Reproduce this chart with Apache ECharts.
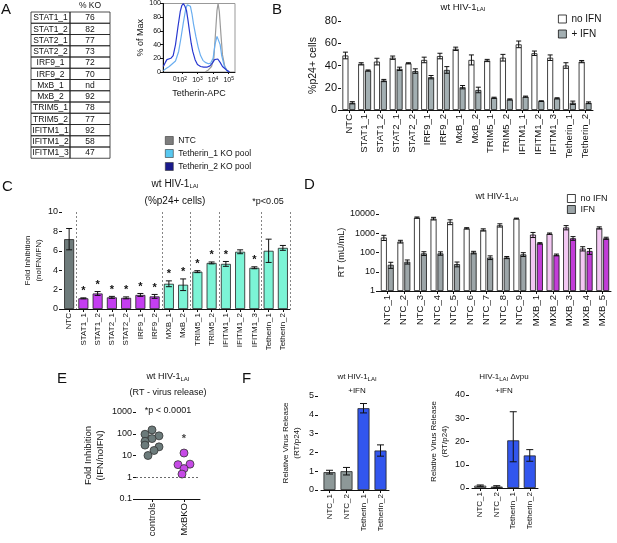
<!DOCTYPE html>
<html>
<head>
<meta charset="utf-8">
<script src="https://cdn.jsdelivr.net/npm/echarts@6/dist/echarts.min.js"></script>
<style>
html, body { margin: 0; padding: 0; background: #fff; }
#main { width: 617px; height: 543px; }
</style>
</head>
<body>
<div id="main"></div>
<script>
// ---- A: knockout table ----
var koNames = ['STAT1_1', 'STAT1_2', 'STAT2_1', 'STAT2_2', 'IRF9_1', 'IRF9_2', 'MxB_1', 'MxB_2',
    'TRIM5_1', 'TRIM5_2', 'IFITM1_1', 'IFITM1_2', 'IFITM1_3'];
var koValues = ['76', '82', '77', '73', '72', '70', 'nd', '92', '78', '77', '92', '58', '47'];

// ---- A: tetherin histogram (x = log10 APC, y = % of max) ----
var histNTC = [[3.5, 0], [3.7, 3], [3.9, 8], [4.05, 20], [4.15, 55], [4.25, 90], [4.32, 100],
    [4.4, 88], [4.5, 55], [4.6, 25], [4.75, 8], [4.9, 2], [5.05, 0]];
var histTeth1 = [[0.82, 2], [1.0, 5], [1.2, 8], [1.4, 12], [1.6, 16], [1.8, 30], [1.95, 50], [2.1, 72],
    [2.25, 92], [2.35, 98], [2.45, 100], [2.55, 96], [2.65, 85], [2.75, 70], [2.9, 52], [3.05, 36],
    [3.2, 24], [3.35, 17], [3.5, 14], [3.7, 12], [3.85, 13], [4.0, 20], [4.12, 40], [4.25, 52],
    [4.35, 50], [4.45, 40], [4.55, 24], [4.7, 10], [4.85, 3], [5.0, 0]];
var histTeth2 = [[0.82, 8], [0.95, 14], [1.05, 18], [1.15, 16], [1.3, 20], [1.45, 24], [1.6, 40],
    [1.75, 65], [1.9, 88], [2.0, 97], [2.1, 100], [2.2, 96], [2.3, 90], [2.4, 75], [2.5, 58],
    [2.6, 42], [2.7, 30], [2.85, 18], [3.0, 11], [3.2, 8], [3.4, 7], [3.6, 7], [3.8, 9], [3.95, 13],
    [4.1, 18], [4.2, 20], [4.3, 19], [4.45, 14], [4.6, 8], [4.75, 5], [4.9, 2], [5.05, 0]];
var histTickPos = [1.55, 2, 3, 4, 5];
var histTickText = ['0', '10{u|2}', '10{u|3}', '10{u|4}', '10{u|5}'];

// ---- B: %p24+ cells ----
var bCats = ['NTC', 'STAT1_1', 'STAT1_2', 'STAT2_1', 'STAT2_2', 'IRF9_1', 'IRF9_2', 'MxB_1', 'MxB_2',
    'TRIM5_1', 'TRIM5_2', 'IFITM1_1', 'IFITM1_2', 'IFITM1_3', 'Tetherin_1', 'Tetherin_2'];
var bNoIfn = [49, 41.5, 43.5, 47, 42, 45, 48.5, 55, 45, 44.5, 47, 59, 51, 47, 40, 43.5];
var bNoIfnErr = [3, 1, 3, 1.5, 0.5, 2.5, 2.5, 1.5, 4.5, 1, 3, 3, 2, 2.5, 2.5, 1];
var bIfn = [6.5, 35.5, 26.5, 37, 35, 29.5, 36, 20.5, 18, 11, 9.5, 12, 8, 10.5, 6.5, 6.5];
var bIfnErr = [1, 0.5, 1, 1.5, 2, 1.5, 3, 1.5, 2.5, 0.5, 0.5, 0.5, 0.3, 0.5, 1.5, 0.8];

// ---- C: fold inhibition ----
var cCats = ['NTC', 'STAT1_1', 'STAT1_2', 'STAT2_1', 'STAT2_2', 'IRF9_1', 'IRF9_2', 'MXB_1', 'MxB_2',
    'TRIM5_1', 'TRIM5_2', 'IFITM1_1', 'IFITM1_2', 'IFITM1_3', 'Tetherin_1', 'Tetherin_2'];
var cFold = [7.2, 1.1, 1.6, 1.2, 1.15, 1.45, 1.3, 2.6, 2.5, 3.85, 4.75, 4.65, 5.9, 4.25, 6.0, 6.3];
var cErr = [1.1, 0.05, 0.2, 0.1, 0.1, 0.15, 0.2, 0.3, 0.6, 0.1, 0.1, 0.25, 0.2, 0.1, 1.2, 0.25];
var cGroup = ['ntc', 'jak', 'jak', 'jak', 'jak', 'jak', 'jak', 'isg', 'isg', 'isg', 'isg', 'isg', 'isg', 'isg', 'isg', 'isg'];
var cStars = [0, 1, 1, 1, 1, 1, 1, 1, 1, 1, 1, 1, 0, 1, 0, 0];
var cDividers = [1, 7, 9, 11, 14];

// ---- D: RT release ----
var dCats = ['NTC_1', 'NTC_2', 'NTC_3', 'NTC_4', 'NTC_5', 'NTC_6', 'NTC_7', 'NTC_8', 'NTC_9',
    'MXB_1', 'MXB_2', 'MXB_3', 'MXB_4', 'MXB_5'];
var dNoIfn = [600, 370, 6500, 5800, 3900, 1800, 1500, 2600, 5800, 850, 950, 2000, 160, 1900];
var dNoIfnErr = [180, 60, 500, 900, 1100, 150, 200, 500, 300, 250, 80, 500, 40, 250];
var dIfn = [23, 33, 90, 90, 25, 100, 55, 55, 80, 300, 75, 550, 120, 550];
var dIfnErr = [8, 8, 20, 18, 7, 15, 12, 7, 18, 25, 8, 120, 40, 70];

// ---- E: fold inhibition by RT ----
var eCats = ['controls', 'MxBKO'];
var eControls = [150, 95, 80, 60, 45, 30, 25, 17, 10];
var eControlsJitter = [0, -7, 7, 0, -7, -7, 7, 2, -4];
var eMxbKo = [13, 3.8, 4, 2.5, 1.4];
var eMxbKoJitter = [0, -6, 6, 0, -2];
var eStarAt = 60;

// ---- F: relative virus release ----
var fCats = ['NTC_1', 'NTC_2', 'Tetherin_1', 'Tetherin_2'];
var fWt = [0.95, 1.0, 4.35, 2.1];
var fWtErr = [0.1, 0.2, 0.25, 0.3];
var fDvpu = [1.0, 0.6, 20.5, 14];
var fDvpuErr = [0.3, 0.4, 12.3, 2.5];

var FONT = "'Liberation Sans', Arial, sans-serif";
var INK = '#111';

var chart = echarts.init(document.getElementById('main'));

function axisBase(extra) {
    var a = {
        axisLine: { lineStyle: { color: INK, width: 1 } },
        axisTick: { show: true, length: 3, lineStyle: { color: INK } },
        splitLine: { show: false },
        axisLabel: { color: INK, fontFamily: FONT, fontSize: 9, margin: 3 },
        nameTextStyle: { color: INK, fontFamily: FONT, fontSize: 9 }
    };
    return Object.assign(a, extra);
}

function catAxis(idx, cats, fontSize, extra) {
    return Object.assign(axisBase({
        type: 'category', gridIndex: idx, data: cats,
        axisTick: { show: true, length: 3, alignWithLabel: true, lineStyle: { color: INK } },
        axisLabel: { color: INK, fontFamily: FONT, fontSize: fontSize, rotate: 90, margin: 4, interval: 0 }
    }), extra || {});
}

function plainNumber(v) {
    return v < 1 ? String(v) : String(Math.round(v));
}

function errorSeries(idx, values, errors, offset, cap, stars) {
    var data = values.map(function (v, i) { return [i, v, errors[i], stars ? stars[i] : 0]; });
    return {
        type: 'custom', xAxisIndex: idx, yAxisIndex: idx, z: 5, silent: true,
        data: data, encode: { x: 0, y: 1 },
        renderItem: function (params, api) {
            var i = api.value(0), v = api.value(1), e = api.value(2);
            var hi = api.coord([i, v + e]);
            var lo = api.coord([i, Math.max(v - e, v * 0.55)]);
            var x = hi[0] + offset;
            var st = { stroke: INK, lineWidth: 1 };
            var kids = [
                { type: 'line', shape: { x1: x, y1: hi[1], x2: x, y2: lo[1] }, style: st },
                { type: 'line', shape: { x1: x - cap, y1: hi[1], x2: x + cap, y2: hi[1] }, style: st },
                { type: 'line', shape: { x1: x - cap, y1: lo[1], x2: x + cap, y2: lo[1] }, style: st }
            ];
            if (api.value(3)) {
                kids.push({ type: 'text', style: { text: '*', x: x, y: hi[1] - 1, align: 'center',
                    verticalAlign: 'bottom', font: 'bold 11px ' + FONT, fill: INK } });
            }
            return { type: 'group', children: kids };
        }
    };
}

function titleText(x, y, text, size, extra) {
    return Object.assign({
        type: 'text', x: x, y: y,
        style: {
            text: text, align: 'center', verticalAlign: 'middle', fill: INK,
            font: (size || 9) + 'px ' + FONT,
            rich: { s: { fontSize: 6, fontFamily: FONT, fill: INK, padding: [5, 0, 0, 0] } }
        }
    }, extra || {});
}

function letter(x, y, t) {
    return { type: 'text', x: x, y: y, style: { text: t, font: '15px ' + FONT, fill: INK } };
}

// table made of rects + texts built from koNames / koValues
var tableGraphics = [];
var tX = 31, tDiv = 70, tR = 110, tTop = 12, rowH = 11.25;
koNames.forEach(function (n, i) {
    var y = tTop + i * rowH;
    tableGraphics.push({ type: 'rect', shape: { x: tX, y: y, width: tDiv - tX, height: rowH },
        style: { fill: 'none', stroke: '#222', lineWidth: 0.8 } });
    tableGraphics.push({ type: 'rect', shape: { x: tDiv, y: y, width: tR - tDiv, height: rowH },
        style: { fill: 'none', stroke: '#222', lineWidth: 0.8 } });
    tableGraphics.push({ type: 'text', x: (tX + tDiv) / 2, y: y + rowH / 2 + 0.5,
        style: { text: n, align: 'center', verticalAlign: 'middle', font: '8.5px ' + FONT, fill: INK } });
    tableGraphics.push({ type: 'text', x: (tDiv + tR) / 2, y: y + rowH / 2 + 0.5,
        style: { text: koValues[i], align: 'center', verticalAlign: 'middle', font: '8.5px ' + FONT, fill: INK } });
});
tableGraphics.push({ type: 'text', x: 90, y: 6, style: { text: '% KO', align: 'center',
    verticalAlign: 'middle', font: '8.5px ' + FONT, fill: INK } });

var cColors = { ntc: '#6e7b7b', jak: '#c43ef0', isg: '#7cf4d6' };

var allGraphics = tableGraphics.concat([
    letter(1, 2, 'A'), letter(272, 2, 'B'), letter(2, 179, 'C'), letter(304, 177, 'D'),
    letter(57, 371, 'E'), letter(242, 371, 'F'),
    titleText(463, 7, 'wt HIV-1{s|LAI}', 9.5),
    titleText(175, 184, 'wt HIV-1{s|LAI}', 10),
    titleText(175, 201, '(%p24+ cells)', 10),
    titleText(268, 202, '*p<0.05', 9),
    titleText(497, 197, 'wt HIV-1{s|LAI}', 9),
    titleText(168, 377, 'wt HIV-1{s|LAI}', 9),
    titleText(168, 393, '(RT - virus release)', 9),
    titleText(168, 411, '*p < 0.0001', 9),
    titleText(357, 377, 'wt HIV-1{s|LAI}', 8),
    titleText(357, 391, '+IFN', 8),
    titleText(504, 377, 'HIV-1{s|LAI} Δvpu', 8),
    titleText(504, 391, '+IFN', 8)
]);

var option = {
    backgroundColor: '#fff',
    animation: false,
    textStyle: { fontFamily: FONT },
    grid: [
        { left: 163, top: 2, width: 72, height: 70, show: true, borderColor: '#999', borderWidth: 1 },
        { left: 341, top: 21, width: 252, height: 89 },
        { left: 62, top: 212, width: 228, height: 97 },
        { left: 379, top: 214, width: 232, height: 77 },
        { left: 136, top: 412, width: 64, height: 87 },
        { left: 321, top: 396, width: 68, height: 94 },
        { left: 472, top: 395, width: 66, height: 93 }
    ],
    legend: [
        {
            orient: 'vertical', left: 160, top: 131, itemWidth: 8, itemHeight: 8, itemGap: 4, icon: 'rect',
            textStyle: { fontFamily: FONT, fontSize: 8.5, color: INK },
            itemStyle: { borderColor: '#333', borderWidth: 0.6 },
            data: [
                { name: 'NTC', itemStyle: { color: '#7d7d7d' } },
                { name: 'Tetherin_1 KO pool', itemStyle: { color: '#58c8f0' } },
                { name: 'Tetherin_2 KO pool', itemStyle: { color: '#1a1a8c' } }
            ]
        },
        {
            orient: 'vertical', left: 553, top: 9, itemWidth: 8, itemHeight: 8, itemGap: 5, icon: 'rect',
            textStyle: { fontFamily: FONT, fontSize: 10, color: INK },
            itemStyle: { borderWidth: 0.8 },
            data: ['no IFN', '+ IFN']
        },
        {
            orient: 'vertical', left: 562, top: 189, itemWidth: 8, itemHeight: 8, itemGap: 2, icon: 'rect',
            textStyle: { fontFamily: FONT, fontSize: 9, color: INK },
            itemStyle: { borderWidth: 0.8 },
            data: ['no IFN ', 'IFN']
        }
    ],
    xAxis: [
        axisBase({
            type: 'value', gridIndex: 0, min: 0.8, max: 5.4,
            axisLabel: { show: false },
            axisTick: { show: true, length: 2, customValues: [2, 3, 4, 5], lineStyle: { color: INK } },
            name: 'Tetherin-APC', nameLocation: 'middle', nameGap: 17,
            nameTextStyle: { color: INK, fontFamily: FONT, fontSize: 9 }
        }),
        catAxis(1, bCats, 9.5),
        catAxis(2, cCats, 8, {
            splitLine: { show: true, interval: function (i) { return cDividers.indexOf(i) >= 0; },
                lineStyle: { color: '#666', type: [2, 2], width: 0.8 } }
        }),
        catAxis(3, dCats, 9.5),
        catAxis(4, eCats, 9.5),
        catAxis(5, fCats, 8),
        catAxis(6, fCats, 8)
    ],
    yAxis: [
        axisBase({
            type: 'value', gridIndex: 0, min: 0, max: 100, interval: 20,
            axisLabel: { color: INK, fontFamily: FONT, fontSize: 7, margin: 2 },
            name: '% of Max', nameLocation: 'middle', nameGap: 14,
            nameTextStyle: { color: INK, fontFamily: FONT, fontSize: 9 }
        }),
        axisBase({
            type: 'value', gridIndex: 1, min: 0, max: 80, interval: 20,
            axisLabel: { color: INK, fontFamily: FONT, fontSize: 11, margin: 4 },
            name: '%p24+ cells', nameLocation: 'middle', nameGap: 22,
            nameTextStyle: { color: INK, fontFamily: FONT, fontSize: 10.5 }
        }),
        axisBase({
            type: 'value', gridIndex: 2, min: 0, max: 10, interval: 2,
            axisLabel: { color: INK, fontFamily: FONT, fontSize: 9, margin: 4 },
            name: 'Fold Inhibition\n(noIFN/IFN)', nameLocation: 'middle', nameGap: 18,
            nameTextStyle: { color: INK, fontFamily: FONT, fontSize: 8, lineHeight: 11 }
        }),
        axisBase({
            type: 'log', logBase: 10, gridIndex: 3, min: 1, max: 10000,
            axisLabel: { color: INK, fontFamily: FONT, fontSize: 9, margin: 4, formatter: plainNumber },
            name: 'RT (mU/mL)', nameLocation: 'middle', nameGap: 31,
            nameTextStyle: { color: INK, fontFamily: FONT, fontSize: 9 }
        }),
        axisBase({
            type: 'log', logBase: 10, gridIndex: 4, min: 0.1, max: 1000,
            axisLabel: { color: INK, fontFamily: FONT, fontSize: 9, margin: 4,
                formatter: function (v) { return v < 1 ? '0.1' : String(Math.round(v)); } },
            name: 'Fold Inhibition\n(IFN/noIFN)', nameLocation: 'middle', nameGap: 30,
            nameTextStyle: { color: INK, fontFamily: FONT, fontSize: 9.5, lineHeight: 12 }
        }),
        axisBase({
            type: 'value', gridIndex: 5, min: 0, max: 5, interval: 1, offset: 3,
            axisLabel: { color: INK, fontFamily: FONT, fontSize: 9, margin: 4 },
            name: 'Relative Virus Release\n(RT/p24)', nameLocation: 'middle', nameGap: 16,
            nameTextStyle: { color: INK, fontFamily: FONT, fontSize: 8, lineHeight: 11 }
        }),
        axisBase({
            type: 'value', gridIndex: 6, min: 0, max: 40, interval: 10, offset: 3,
            axisLabel: { color: INK, fontFamily: FONT, fontSize: 9, margin: 4 },
            name: 'Relative Virus Release\n(RT/p24)', nameLocation: 'middle', nameGap: 19,
            nameTextStyle: { color: INK, fontFamily: FONT, fontSize: 8, lineHeight: 11 }
        })
    ],
    series: [
        // A histogram
        { name: 'NTC', type: 'line', xAxisIndex: 0, yAxisIndex: 0, data: histNTC, symbol: 'none',
            lineStyle: { color: '#9a9a9a', width: 1.2 }, itemStyle: { color: '#7d7d7d' } },
        { name: 'Tetherin_1 KO pool', type: 'line', xAxisIndex: 0, yAxisIndex: 0, data: histTeth1, symbol: 'none',
            lineStyle: { color: '#6aaef0', width: 1.2 }, itemStyle: { color: '#58c8f0' } },
        { name: 'Tetherin_2 KO pool', type: 'line', xAxisIndex: 0, yAxisIndex: 0, data: histTeth2, symbol: 'none',
            lineStyle: { color: '#2838d0', width: 1.2 }, itemStyle: { color: '#1a1a8c' } },

        // B
        { name: 'no IFN', type: 'bar', xAxisIndex: 1, yAxisIndex: 1, data: bNoIfn, barWidth: 6, barGap: '15%',
            itemStyle: { color: '#fff', borderColor: INK, borderWidth: 0.8 } },
        { name: '+ IFN', type: 'bar', xAxisIndex: 1, yAxisIndex: 1, data: bIfn, barWidth: 6, barGap: '15%',
            itemStyle: { color: '#a3afb2', borderColor: INK, borderWidth: 0.8 } },
        errorSeries(1, bNoIfn, bNoIfnErr, -3.45, 2.5),
        errorSeries(1, bIfn, bIfnErr, 3.45, 2.5),

        // C
        { name: 'fold', type: 'bar', xAxisIndex: 2, yAxisIndex: 2, barWidth: 10,
            data: cFold.map(function (v, i) {
                return { value: v, itemStyle: { color: cColors[cGroup[i]] } };
            }),
            itemStyle: { borderColor: '#222', borderWidth: 0.8 } },
        errorSeries(2, cFold, cErr, 0, 3, cStars),

        // D
        { name: 'no IFN ', type: 'bar', xAxisIndex: 3, yAxisIndex: 3, barWidth: 6, barGap: '15%',
            data: dNoIfn.map(function (v, i) {
                return { value: v, itemStyle: { color: dCats[i].indexOf('MXB') === 0 ? '#f3c8f3' : '#fff' } };
            }),
            itemStyle: { color: '#fff', borderColor: INK, borderWidth: 0.8 } },
        { name: 'IFN', type: 'bar', xAxisIndex: 3, yAxisIndex: 3, barWidth: 6, barGap: '15%',
            data: dIfn.map(function (v, i) {
                return { value: v, itemStyle: { color: dCats[i].indexOf('MXB') === 0 ? '#c23dd8' : '#9ca5a8' } };
            }),
            itemStyle: { color: '#9ca5a8', borderColor: INK, borderWidth: 0.8 } },
        errorSeries(3, dNoIfn, dNoIfnErr, -3.45, 2.5),
        errorSeries(3, dIfn, dIfnErr, 3.45, 2.5),

        // E
        { name: 'controls', type: 'scatter', xAxisIndex: 4, yAxisIndex: 4, symbolSize: 8,
            data: eControls.map(function (v, i) { return { value: [0, v], symbolOffset: [eControlsJitter[i], 0] }; }),
            itemStyle: { color: '#6c7b7b', borderColor: '#333', borderWidth: 0.8, opacity: 1 },
            markLine: { silent: true, symbol: 'none', label: { show: false },
                lineStyle: { color: '#444', type: [2, 2], width: 0.8 }, data: [{ yAxis: 1 }] } },
        { name: 'MxBKO', type: 'scatter', xAxisIndex: 4, yAxisIndex: 4, symbolSize: 8,
            data: eMxbKo.map(function (v, i) { return { value: [1, v], symbolOffset: [eMxbKoJitter[i], 0] }; }),
            itemStyle: { color: '#c64ae6', borderColor: '#333', borderWidth: 0.8, opacity: 1 } },
        { name: 'Estar', type: 'scatter', xAxisIndex: 4, yAxisIndex: 4, symbolSize: 0, data: [[1, eStarAt]],
            label: { show: true, formatter: '*', position: 'inside', fontSize: 11, fontWeight: 'bold', color: INK } },

        // F left
        { name: 'fwt', type: 'bar', xAxisIndex: 5, yAxisIndex: 5, barWidth: 12,
            data: fWt.map(function (v, i) { return { value: v, itemStyle: { color: i < 2 ? '#8d9898' : '#3256ee' } }; }),
            itemStyle: { borderColor: '#222', borderWidth: 0.8 } },
        errorSeries(5, fWt, fWtErr, 0, 3.5),

        // F right
        { name: 'fdvpu', type: 'bar', xAxisIndex: 6, yAxisIndex: 6, barWidth: 12,
            data: fDvpu.map(function (v, i) { return { value: v, itemStyle: { color: i < 2 ? '#c9d0d0' : '#3256ee' } }; }),
            itemStyle: { borderColor: '#222', borderWidth: 0.8 } },
        errorSeries(6, fDvpu, fDvpuErr, 0, 3.5)
    ],
    graphic: allGraphics
};

chart.setOption(option);

// histogram tick labels placed through the axis scale
histTickPos.forEach(function (v, k) {
    var p = chart.convertToPixel({ xAxisIndex: 0, yAxisIndex: 0 }, [v, 0]);
    allGraphics.push({ type: 'text', x: p[0], y: p[1] + 4, z: 100,
        style: { text: histTickText[k], align: 'center', verticalAlign: 'top', font: '7px ' + FONT, fill: INK,
            rich: { u: { fontSize: 5, fontFamily: FONT, fill: INK, padding: [0, 0, 4, 0] } } } });
});
chart.setOption({ graphic: allGraphics });
</script>
</body>
</html>
